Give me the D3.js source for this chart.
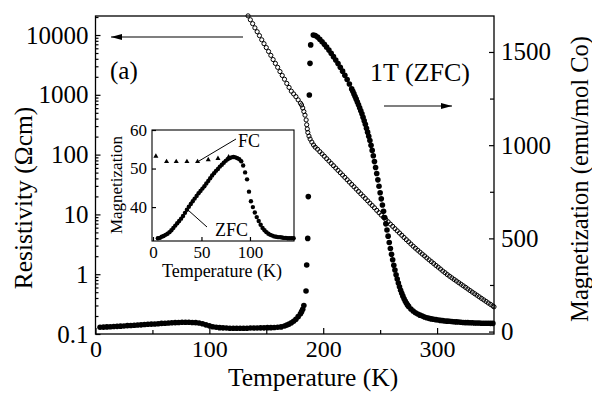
<!DOCTYPE html>
<html><head><meta charset="utf-8">
<script src="https://cdn.jsdelivr.net/npm/d3@7"></script>
<style>
body{margin:0;background:#fff}
text{font-family:"Liberation Serif","Times New Roman",serif;fill:#000}
</style>
</head><body>
<svg id="c" width="592" height="394"></svg>
<script>
// ---------------- DATA ----------------
// Main x-axis
const xTicks = [0, 100, 200, 300];
const xMinorTicks = [50, 150, 250];
// Left axis (resistivity, log)
const yLTicks = [0.1, 1, 10, 100, 1000, 10000];
const yLTickLabels = ["0.1", "1", "10", "100", "1000", "10000"];
// Right axis (magnetization)
const yRTicks = [0, 500, 1000, 1500];
const yRMinorTicks = [250, 750, 1250];

// Resistivity (open circles)
const rhoT = [134,136,138,140,142,144,146,148,150,152,154,156,158,160,162,164,166,168,170,172,174,
  176,178,180,181,182,183,184,185,185.5,186,186.5,187.5,188.5,190,191.5,193,195,197,
  199,201,203,205,207,209,211,213,215,217,219,221,223,225,227,229,231,233,235,237,239,241,243,245,247,249,
  251,253,255,257,259,261,263,265,267,269,271,273,275,277,279,281,283,285,287,289,291,293,295,297,299,
  301,303,305,307,309,311,313,315,317,319,321,323,325,327,329,331,333,335,337,339,341,343,345,347,349,350];
const rhoV = [20900,17990,15490,13180,11350,9770,8320,7160,6170,5310,4570,3890,3350,2880,2450,2110,1820,1550,1330,1150,1035,
  933,822,724,676,603,525,457,380,316,269,234,204,182,162,145,133,123,112,
  102.6,93.8,85.5,78.2,71.4,65.3,59.7,54.5,49.8,45.5,41.6,38.0,34.7,31.7,29.0,26.5,24.2,22.1,20.2,18.5,16.9,15.4,14.1,12.9,11.7,10.7,
  9.73,8.91,8.17,7.50,6.87,6.31,5.78,5.31,4.88,4.48,4.11,3.78,3.48,3.20,2.94,2.72,2.52,2.34,2.17,2.02,1.87,1.74,1.62,1.51,1.40,
  1.31,1.22,1.13,1.06,0.986,0.925,0.869,0.817,0.769,0.723,0.681,0.640,0.603,0.566,0.533,0.501,0.472,0.445,0.419,0.394,0.372,0.351,0.330,0.312,0.294,0.285];

// Magnetization 1T ZFC (filled circles)
const magT = [4,7,10,13,16,19,22,25,28,31,34,37,40,43,46,49,52,55,58,61,64,67,70,73,76,79,82,85,88,91,94,97,100,
  103,106,109,112,115,118,121,124,127,130,133,136,139,142,145,148,151,154,157,160,163,166,
  168,170,172,174,176,178,180,181,182,183,184.9,185.5,186.4,186.9,187.8,188.4,189,191.3,
  193,195,197,199,201,203,205,207,209,211,213,215,217,219,221,223,
  225,226,227,228,229,230,231,232,233,234,235,236,237,238,239,240,241,242,243,244,245,246,247,248,249,250,
  251,252,253,254,255,256,257,258,259,260,261,262,263,264,265,266,267,268,269,270,271,272,273,274,275,
  277,279,281,283,285,287,289,291,293,295,297,299,301,303,305,307,309,311,313,315,317,319,321,323,325,327,329,331,333,335,337,339,341,343,345,347,349];
const magV = [23,24,25,26,27,28,29,30,32,33,34,35,36,38,39,40,41,42,44,45,46,47,48,49,50,50,50,49,48,46,42,36,31,
  26,23,21,20,19,18,18,18,18,18,18,19,19,19,20,20,21,21,22,23,25,30,
  35,40,47,55,66,80,96,107,120,140,218,357,500,724,1269,1439,1538,1591,
  1588,1580,1568,1555,1541,1526,1510,1493,1475,1457,1438,1418,1397,1375,1352,1328,
  1302,1289,1275,1261,1247,1232,1217,1201,1185,1168,1150,1131,1112,1091,1070,1048,1025,999,972,943,912,880,848,814,780,745,
  712,679,645,612,578,545,512,478,446,415,385,356,330,305,282,260,240,222,205,190,176,164,153,143,135,
  121,110,101,94,88,83,78,74,71,68,66,64,62,60,59,57,56,55,54,53,52,51,50,49,48,48,47,47,46,46,46,45,45,45,45,44,44];

// Inset
const inXTicks = [0, 50, 100];
const inYTicks = [40, 50, 60];
const zfcT = [5,7,9,11,13,15,17,19,21,23,25,27,29,31,33,35,37,39,41,43,45,47,49,51,53,55,57,59,61,63,65,67,69,71,73,75,77,79,
  81,83,85,87,89,91,93,95,97,99,101,103,105,107,109,111,113,115,117,119,121,123,125,127,129,131,133,135,137,139,141,143,145];
const zfcM = [31.9,32.0,32.3,32.5,32.8,33.1,33.5,34.0,34.6,35.2,35.8,36.4,37.0,37.7,38.5,39.3,40.1,40.8,41.5,42.2,42.9,43.6,44.2,44.8,45.4,46.1,46.8,47.5,48.2,48.8,49.4,49.9,50.5,51.0,51.5,52.0,52.4,52.7,
  52.9,53.0,52.9,52.7,52.4,51.9,50.8,49.0,47.2,44.0,41.5,40.0,38.6,37.4,36.4,35.4,34.6,34.0,33.5,33.1,32.8,32.6,32.4,32.3,32.2,32.2,32.1,32.0,32.0,31.9,31.9,31.9,31.9];
const fcT = [3, 14, 24, 35, 46, 57, 67, 78];
const fcM = [53.2, 51.8, 51.8, 51.8, 51.8, 52.3, 52.6, 53.0];

// ---------------- CHART ----------------
const svg = d3.select("#c");
const serif = '"Liberation Serif","Times New Roman",serif';

const x = d3.scaleLinear().domain([0, 350]).range([95.5, 494]);
const yL = d3.scaleLog().domain([0.1, 20800]).range([334, 16]);
const yR = d3.scaleLinear().domain([-13, 1693]).range([334, 16]);

const [x0, x1] = x.range();
const [yB, yT] = yL.range();

function styleAxis(g, fs) {
  g.attr("font-family", serif).attr("font-size", fs);
  g.selectAll(".tick line").attr("stroke", "#000").attr("stroke-width", 1.2);
  g.select(".domain").remove();
}

// bottom axis
const gx = svg.append("g").attr("transform", `translate(0,${yB})`)
  .call(d3.axisBottom(x).tickValues(xTicks).tickFormat(d3.format("d")).tickSizeInner(-6).tickSizeOuter(0).tickPadding(6));
styleAxis(gx, 24);
const gxm = svg.append("g").attr("transform", `translate(0,${yB})`)
  .call(d3.axisBottom(x).tickValues(xMinorTicks).tickFormat("").tickSizeInner(-4).tickSizeOuter(0));
styleAxis(gxm, 10);

// left axis
const gl = svg.append("g").attr("transform", `translate(${x0},0)`)
  .call(d3.axisLeft(yL).tickValues(yLTicks).tickFormat((d, i) => yLTickLabels[i]).tickSizeInner(-5).tickSizeOuter(0).tickPadding(7));
styleAxis(gl, 25);
const lMinor = [];
for (let e = -1; e <= 4; e++) for (let m = 2; m <= 9; m++) { const v = m * Math.pow(10, e); if (v < yL.domain()[1]) lMinor.push(v); }
const glm = svg.append("g").attr("transform", `translate(${x0},0)`)
  .call(d3.axisLeft(yL).tickValues(lMinor).tickFormat("").tickSizeInner(-3).tickSizeOuter(0));
styleAxis(glm, 10);

// right axis
const gr = svg.append("g").attr("transform", `translate(${x1},0)`)
  .call(d3.axisRight(yR).tickValues(yRTicks).tickFormat(d3.format("d")).tickSizeInner(-5).tickSizeOuter(0).tickPadding(7));
styleAxis(gr, 25);
const grm = svg.append("g").attr("transform", `translate(${x1},0)`)
  .call(d3.axisRight(yR).tickValues(yRMinorTicks).tickFormat("").tickSizeInner(-4).tickSizeOuter(0));
styleAxis(grm, 10);

// frame
svg.append("rect").attr("x", x0).attr("y", yT).attr("width", x1 - x0).attr("height", yB - yT)
  .attr("fill", "none").attr("stroke", "#000").attr("stroke-width", 1.3);

// resistivity open circles
svg.append("g").selectAll("circle").data(rhoT).join("circle")
  .attr("cx", d => x(d)).attr("cy", (d, i) => yL(rhoV[i])).attr("r", 2.1)
  .attr("fill", "none").attr("stroke", "#000").attr("stroke-width", 1);

// magnetization filled circles
svg.append("g").selectAll("circle").data(magT).join("circle")
  .attr("cx", d => x(d)).attr("cy", (d, i) => yR(magV[i])).attr("r", 2.8)
  .attr("fill", "#000");

// titles
svg.append("text").attr("x", 313).attr("y", 386).attr("text-anchor", "middle")
  .attr("font-size", 25.5).text("Temperature (K)");
svg.append("text").attr("transform", "translate(32,198) rotate(-90)").attr("text-anchor", "middle")
  .attr("font-size", 25.5).text("Resistivity (Ωcm)");
svg.append("text").attr("transform", "translate(588,179) rotate(-90)").attr("text-anchor", "middle")
  .attr("font-size", 24.5).text("Magnetization (emu/mol Co)");

// annotations
svg.append("text").attr("x", 110).attr("y", 79).attr("font-size", 25).text("(a)");
svg.append("text").attr("x", 370).attr("y", 81).attr("font-size", 26).text("1T (ZFC)");

function arrow(xa, xb, y) {
  svg.append("line").attr("x1", xa).attr("x2", xb).attr("y1", y).attr("y2", y)
    .attr("stroke", "#000").attr("stroke-width", 1.2);
  const dir = Math.sign(xb - xa);
  svg.append("path").attr("d", `M${xb},${y} L${xb - dir * 11},${y - 3} L${xb - dir * 11},${y + 3} Z`).attr("fill", "#000");
}
arrow(243, 111, 37);
arrow(384, 452, 106);

// ---------------- INSET ----------------
const ix = d3.scaleLinear().domain([-1, 145.4]).range([152, 294]);
const iy = d3.scaleLinear().domain([31.2, 60]).range([241, 130]);
const [ix0, ix1] = ix.range();
const [iyB, iyT] = iy.range();

svg.append("rect").attr("x", ix0).attr("y", iyT).attr("width", ix1 - ix0).attr("height", iyB - iyT)
  .attr("fill", "#fff");

const gix = svg.append("g").attr("transform", `translate(0,${iyB})`)
  .call(d3.axisBottom(ix).tickValues(inXTicks).tickFormat(d3.format("d")).tickSizeInner(-4).tickSizeOuter(0).tickPadding(5));
styleAxis(gix, 17);
const giy = svg.append("g").attr("transform", `translate(${ix0},0)`)
  .call(d3.axisLeft(iy).tickValues(inYTicks).tickFormat(d3.format("d")).tickSizeInner(-4).tickSizeOuter(0).tickPadding(5));
styleAxis(giy, 17);

svg.append("rect").attr("x", ix0).attr("y", iyT).attr("width", ix1 - ix0).attr("height", iyB - iyT)
  .attr("fill", "none").attr("stroke", "#000").attr("stroke-width", 1.1);

svg.append("g").selectAll("circle").data(zfcT).join("circle")
  .attr("cx", d => ix(d)).attr("cy", (d, i) => iy(zfcM[i])).attr("r", 2.2).attr("fill", "#000");

const tri = d3.symbol().type(d3.symbolTriangle).size(11);
svg.append("g").selectAll("path").data(fcT).join("path")
  .attr("transform", (d, i) => `translate(${ix(d)},${iy(fcM[i])})`).attr("d", tri).attr("fill", "#000");

svg.append("text").attr("x", 222).attr("y", 277).attr("text-anchor", "middle").attr("font-size", 18).text("Temperature (K)");
svg.append("text").attr("transform", "translate(122,185) rotate(-90)").attr("text-anchor", "middle")
  .attr("font-size", 17).text("Magnetization");

svg.append("line").attr("x1", 199).attr("y1", 161).attr("x2", 236).attr("y2", 139).attr("stroke", "#000").attr("stroke-width", 1);
svg.append("text").attr("x", 238).attr("y", 147).attr("font-size", 18).text("FC");
svg.append("line").attr("x1", 188).attr("y1", 210).attr("x2", 207).attr("y2", 227).attr("stroke", "#000").attr("stroke-width", 1);
svg.append("text").attr("x", 215).attr("y", 236).attr("font-size", 18).text("ZFC");
</script>
</body></html>
